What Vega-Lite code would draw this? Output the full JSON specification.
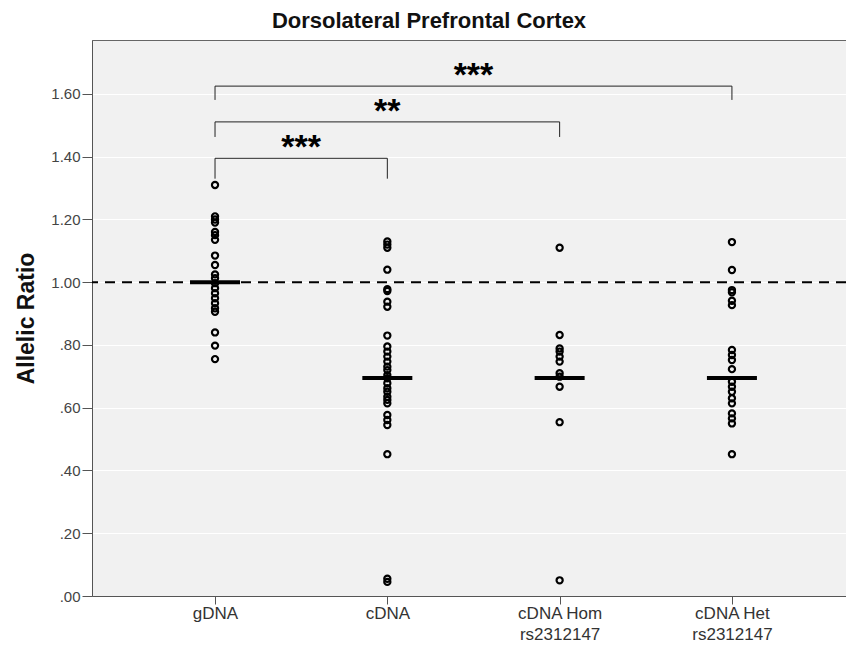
{
  "$schema": "https://vega.github.io/schema/vega-lite/v6.json",
  "width": 754,
  "height": 556,
  "autosize": {"type": "none"},
  "padding": {"left": 92, "top": 40, "right": 0, "bottom": 54},
  "background": "white",
  "config": {
    "view": {"fill": "#f1f1f1", "stroke": "#666666", "strokeWidth": 1},
    "font": "Liberation Sans"
  },
  "title": {
    "text": "Dorsolateral Prefrontal Cortex",
    "fontSize": 22,
    "fontWeight": "bold",
    "color": "#111111",
    "anchor": "middle",
    "dx": -40,
    "offset": 7
  },
  "datasets": {
    "points": [
      {"group": "gDNA", "order": 1, "ratio": 1.31},
      {"group": "gDNA", "order": 1, "ratio": 1.21},
      {"group": "gDNA", "order": 1, "ratio": 1.2},
      {"group": "gDNA", "order": 1, "ratio": 1.19},
      {"group": "gDNA", "order": 1, "ratio": 1.16},
      {"group": "gDNA", "order": 1, "ratio": 1.15},
      {"group": "gDNA", "order": 1, "ratio": 1.135},
      {"group": "gDNA", "order": 1, "ratio": 1.085},
      {"group": "gDNA", "order": 1, "ratio": 1.055},
      {"group": "gDNA", "order": 1, "ratio": 1.025},
      {"group": "gDNA", "order": 1, "ratio": 1.013},
      {"group": "gDNA", "order": 1, "ratio": 0.997},
      {"group": "gDNA", "order": 1, "ratio": 0.981},
      {"group": "gDNA", "order": 1, "ratio": 0.965},
      {"group": "gDNA", "order": 1, "ratio": 0.949},
      {"group": "gDNA", "order": 1, "ratio": 0.933},
      {"group": "gDNA", "order": 1, "ratio": 0.917},
      {"group": "gDNA", "order": 1, "ratio": 0.906},
      {"group": "gDNA", "order": 1, "ratio": 0.84},
      {"group": "gDNA", "order": 1, "ratio": 0.798},
      {"group": "gDNA", "order": 1, "ratio": 0.755},
      {"group": "cDNA", "order": 2, "ratio": 1.13},
      {"group": "cDNA", "order": 2, "ratio": 1.12},
      {"group": "cDNA", "order": 2, "ratio": 1.11},
      {"group": "cDNA", "order": 2, "ratio": 1.04},
      {"group": "cDNA", "order": 2, "ratio": 0.978},
      {"group": "cDNA", "order": 2, "ratio": 0.972},
      {"group": "cDNA", "order": 2, "ratio": 0.938},
      {"group": "cDNA", "order": 2, "ratio": 0.922},
      {"group": "cDNA", "order": 2, "ratio": 0.83},
      {"group": "cDNA", "order": 2, "ratio": 0.795},
      {"group": "cDNA", "order": 2, "ratio": 0.779},
      {"group": "cDNA", "order": 2, "ratio": 0.763},
      {"group": "cDNA", "order": 2, "ratio": 0.747},
      {"group": "cDNA", "order": 2, "ratio": 0.731},
      {"group": "cDNA", "order": 2, "ratio": 0.72},
      {"group": "cDNA", "order": 2, "ratio": 0.704},
      {"group": "cDNA", "order": 2, "ratio": 0.694},
      {"group": "cDNA", "order": 2, "ratio": 0.678},
      {"group": "cDNA", "order": 2, "ratio": 0.662},
      {"group": "cDNA", "order": 2, "ratio": 0.651},
      {"group": "cDNA", "order": 2, "ratio": 0.635},
      {"group": "cDNA", "order": 2, "ratio": 0.625},
      {"group": "cDNA", "order": 2, "ratio": 0.614},
      {"group": "cDNA", "order": 2, "ratio": 0.577},
      {"group": "cDNA", "order": 2, "ratio": 0.561},
      {"group": "cDNA", "order": 2, "ratio": 0.545},
      {"group": "cDNA", "order": 2, "ratio": 0.452},
      {"group": "cDNA", "order": 2, "ratio": 0.055},
      {"group": "cDNA", "order": 2, "ratio": 0.045},
      {"group": "cDNA Hom rs2312147", "order": 3, "ratio": 1.11},
      {"group": "cDNA Hom rs2312147", "order": 3, "ratio": 0.832},
      {"group": "cDNA Hom rs2312147", "order": 3, "ratio": 0.789},
      {"group": "cDNA Hom rs2312147", "order": 3, "ratio": 0.779},
      {"group": "cDNA Hom rs2312147", "order": 3, "ratio": 0.763},
      {"group": "cDNA Hom rs2312147", "order": 3, "ratio": 0.747},
      {"group": "cDNA Hom rs2312147", "order": 3, "ratio": 0.71},
      {"group": "cDNA Hom rs2312147", "order": 3, "ratio": 0.699},
      {"group": "cDNA Hom rs2312147", "order": 3, "ratio": 0.667},
      {"group": "cDNA Hom rs2312147", "order": 3, "ratio": 0.554},
      {"group": "cDNA Hom rs2312147", "order": 3, "ratio": 0.05},
      {"group": "cDNA Het rs2312147", "order": 4, "ratio": 1.128},
      {"group": "cDNA Het rs2312147", "order": 4, "ratio": 1.039},
      {"group": "cDNA Het rs2312147", "order": 4, "ratio": 0.975},
      {"group": "cDNA Het rs2312147", "order": 4, "ratio": 0.968},
      {"group": "cDNA Het rs2312147", "order": 4, "ratio": 0.941},
      {"group": "cDNA Het rs2312147", "order": 4, "ratio": 0.927},
      {"group": "cDNA Het rs2312147", "order": 4, "ratio": 0.784},
      {"group": "cDNA Het rs2312147", "order": 4, "ratio": 0.768},
      {"group": "cDNA Het rs2312147", "order": 4, "ratio": 0.752},
      {"group": "cDNA Het rs2312147", "order": 4, "ratio": 0.723},
      {"group": "cDNA Het rs2312147", "order": 4, "ratio": 0.683},
      {"group": "cDNA Het rs2312147", "order": 4, "ratio": 0.667},
      {"group": "cDNA Het rs2312147", "order": 4, "ratio": 0.651},
      {"group": "cDNA Het rs2312147", "order": 4, "ratio": 0.63},
      {"group": "cDNA Het rs2312147", "order": 4, "ratio": 0.614},
      {"group": "cDNA Het rs2312147", "order": 4, "ratio": 0.582},
      {"group": "cDNA Het rs2312147", "order": 4, "ratio": 0.566},
      {"group": "cDNA Het rs2312147", "order": 4, "ratio": 0.55},
      {"group": "cDNA Het rs2312147", "order": 4, "ratio": 0.452}
    ],
    "medians": [
      {"group": "gDNA", "order": 1, "ratio": 1.0},
      {"group": "cDNA", "order": 2, "ratio": 0.695},
      {"group": "cDNA Hom rs2312147", "order": 3, "ratio": 0.695},
      {"group": "cDNA Het rs2312147", "order": 4, "ratio": 0.695}
    ],
    "brackets": [
      {"from": 1, "to": 2, "top": 1.395, "leg": 1.33, "mid": 1.5, "label": "***"},
      {"from": 1, "to": 3, "top": 1.511, "leg": 1.463, "mid": 2.0, "label": "**"},
      {"from": 1, "to": 4, "top": 1.625, "leg": 1.581, "mid": 2.5, "label": "***"}
    ]
  },
  "encoding": {
    "x": {
      "field": "order",
      "type": "quantitative",
      "scale": {"domain": [0.286, 4.662], "nice": false, "zero": false},
      "axis": {
        "title": null,
        "values": [1, 2, 3, 4],
        "grid": false,
        "labelExpr": "datum.value == 1 ? 'gDNA' : datum.value == 2 ? 'cDNA' : datum.value == 3 ? ['cDNA Hom', 'rs2312147'] : ['cDNA Het', 'rs2312147']",
        "tickSize": 8,
        "tickColor": "#555555",
        "domainColor": "#555555",
        "labelFontSize": 17,
        "labelColor": "#333333",
        "labelPadding": 1,
        "labelLineHeight": 21,
        "labelFont": "Liberation Sans Narrow, Liberation Sans"
      }
    },
    "y": {
      "field": "ratio",
      "type": "quantitative",
      "scale": {"domain": [0, 1.772], "nice": false, "zero": false},
      "axis": {
        "values": [0, 0.2, 0.4, 0.6, 0.8, 1.0, 1.2, 1.4, 1.6],
        "labelExpr": "datum.value >= 0.999 ? format(datum.value, '.2f') : substring(format(datum.value, '.2f'), 1)",
        "grid": true,
        "gridColor": "#ffffff",
        "gridWidth": 1,
        "domainColor": "#555555",
        "tickColor": "#555555",
        "tickSize": 10,
        "labelFontSize": 15,
        "labelColor": "#444444",
        "labelPadding": 2,
        "labelFont": "Liberation Sans Narrow, Liberation Sans",
        "title": "Allelic Ratio",
        "titleFontSize": 23,
        "titleFontWeight": "bold",
        "titleColor": "#111111",
        "titlePadding": 12
      }
    }
  },
  "layer": [
    {
      "data": {"values": [{"ratio": 1.0}]},
      "mark": {"type": "rule", "color": "black", "strokeWidth": 2, "strokeDash": [10, 7]},
      "encoding": {"x": null, "y": {"field": "ratio", "type": "quantitative"}}
    },
    {
      "data": {"name": "points"},
      "mark": {"type": "point", "shape": "circle", "filled": false, "color": "black", "strokeWidth": 2.2, "size": 38, "opacity": 1}
    },
    {
      "data": {"name": "medians"},
      "mark": {"type": "tick", "orient": "horizontal", "size": 50, "thickness": 4, "color": "black", "opacity": 1}
    },
    {
      "data": {"name": "brackets"},
      "mark": {"type": "rule", "color": "#222222", "strokeWidth": 1},
      "encoding": {
        "x": {"field": "from", "type": "quantitative"},
        "x2": {"field": "to"},
        "y": {"field": "top", "type": "quantitative"}
      }
    },
    {
      "data": {"name": "brackets"},
      "mark": {"type": "rule", "color": "#222222", "strokeWidth": 1},
      "encoding": {
        "x": {"field": "from", "type": "quantitative"},
        "y": {"field": "top", "type": "quantitative"},
        "y2": {"field": "leg"}
      }
    },
    {
      "data": {"name": "brackets"},
      "mark": {"type": "rule", "color": "#222222", "strokeWidth": 1},
      "encoding": {
        "x": {"field": "to", "type": "quantitative"},
        "y": {"field": "top", "type": "quantitative"},
        "y2": {"field": "leg"}
      }
    },
    {
      "data": {"name": "brackets"},
      "mark": {"type": "text", "fontSize": 34, "fontWeight": "bold", "color": "black", "baseline": "alphabetic", "align": "center"},
      "encoding": {
        "x": {"field": "mid", "type": "quantitative"},
        "y": {"field": "top", "type": "quantitative"},
        "text": {"field": "label"}
      }
    }
  ]
}
